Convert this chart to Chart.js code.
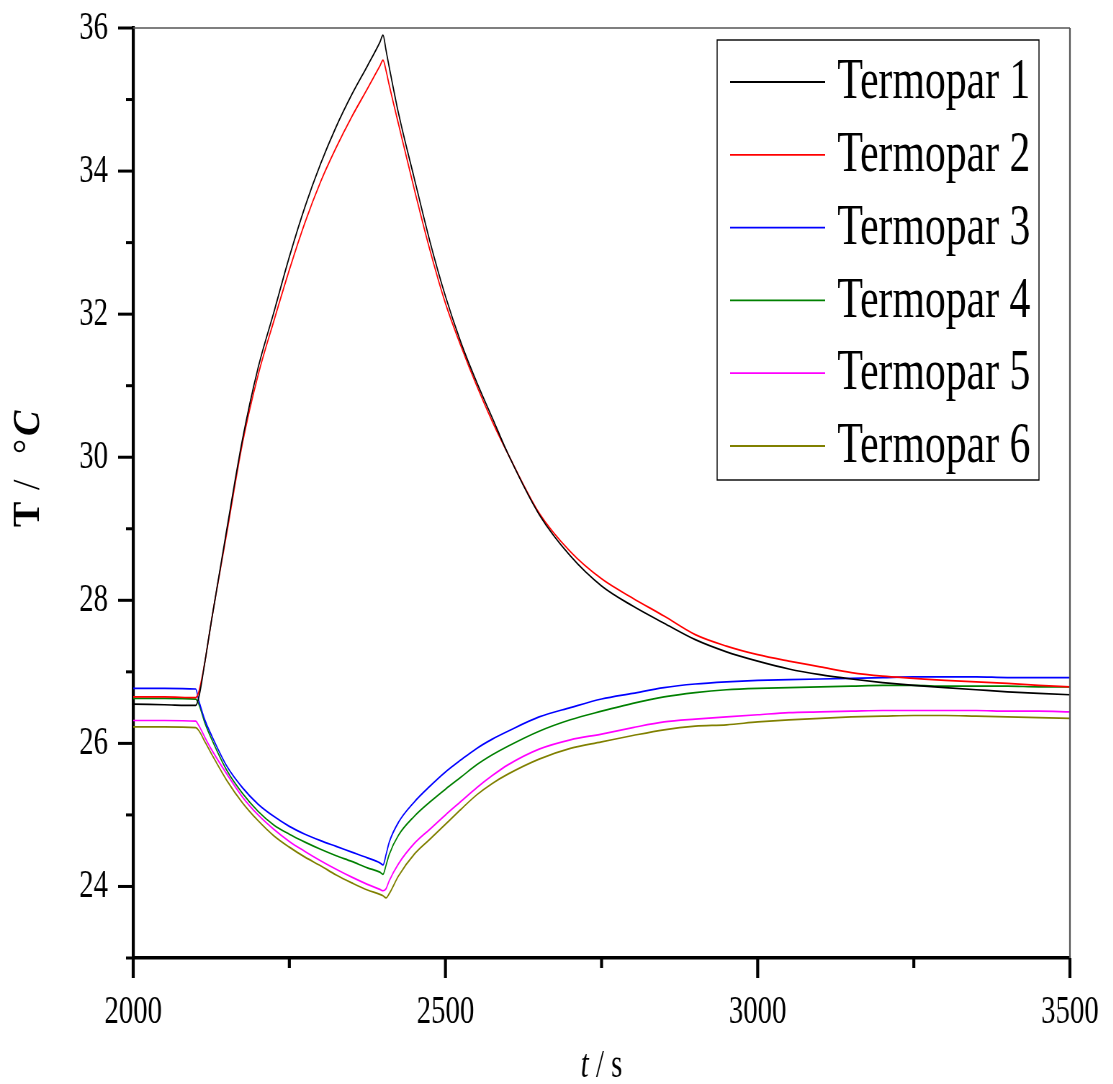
<!DOCTYPE html>
<html>
<head>
<meta charset="utf-8">
<script src="https://cdn.jsdelivr.net/npm/chart.js@4"></script>
<style>
  html, body { margin: 0; padding: 0; background: #fff; overflow: hidden; }
  #chart { display: block; transform: scaleX(0.72); transform-origin: 0 0; }
</style>
</head>
<body>
<canvas id="chart" width="1546" height="1084"></canvas>
<script>
// time axis (s)
const times = [2000, 2050, 2100, 2105, 2115, 2125,
  2150, 2175, 2200, 2225, 2250, 2275, 2300, 2325, 2350, 2375, 2395, 2400,
  2405, 2410,
  2425, 2450, 2475, 2500, 2525, 2550, 2575, 2600,
  2650, 2700, 2750, 2800, 2850, 2900, 2950, 3000, 3050, 3100, 3150, 3200, 3250, 3300, 3350, 3400, 3450, 3500];

// temperatures (°C)
const termopar1 = [26.55, 26.54, 26.53, 26.64, 27.15, 27.7,
  29.0, 30.25, 31.25, 32.02, 32.8, 33.5, 34.1, 34.62, 35.07, 35.47, 35.8, 35.9,
  35.68, 35.45,
  34.8, 33.9, 33.02, 32.25, 31.6, 31.05, 30.55, 30.05,
  29.2, 28.62, 28.2, 27.92, 27.68, 27.45, 27.28, 27.15, 27.04, 26.96, 26.9, 26.85, 26.81, 26.78, 26.75, 26.72, 26.7, 26.68];
const termopar2 = [26.65, 26.65, 26.64, 26.72, 27.15, 27.7,
  28.95, 30.2, 31.15, 31.9, 32.62, 33.28, 33.85, 34.33, 34.76, 35.15, 35.47, 35.55,
  35.4, 35.2,
  34.65, 33.75, 32.9, 32.15, 31.55, 31.0, 30.5, 30.05,
  29.22, 28.68, 28.3, 28.03, 27.78, 27.52, 27.36, 27.24, 27.15, 27.07, 26.99, 26.94, 26.91, 26.88, 26.86, 26.84, 26.81, 26.79];
const termopar3 = [26.77, 26.77, 26.76, 26.6, 26.32, 26.12,
  25.68, 25.38, 25.15, 24.98, 24.84, 24.73, 24.64, 24.56, 24.48, 24.4, 24.33, 24.3,
  24.45, 24.62,
  24.9, 25.18, 25.4, 25.6, 25.77, 25.93, 26.06, 26.17,
  26.37, 26.5, 26.62, 26.7, 26.78, 26.83, 26.86, 26.88, 26.89, 26.9, 26.91, 26.92, 26.93, 26.93, 26.93, 26.92, 26.92, 26.92];
const termopar4 = [26.63, 26.63, 26.62, 26.55, 26.28, 26.07,
  25.62, 25.3, 25.05, 24.86, 24.73, 24.62, 24.52, 24.43, 24.35, 24.26, 24.2, 24.17,
  24.3, 24.45,
  24.72, 24.98, 25.18, 25.36, 25.53, 25.7, 25.84, 25.96,
  26.17, 26.33, 26.45, 26.56, 26.65, 26.71, 26.75, 26.77, 26.78, 26.79, 26.8, 26.81, 26.81, 26.8, 26.8, 26.8, 26.79, 26.79];
const termopar5 = [26.32, 26.32, 26.31, 26.25, 26.08, 25.92,
  25.57, 25.25, 25.0, 24.8, 24.63, 24.49, 24.36, 24.24, 24.13, 24.03, 23.96, 23.94,
  23.97, 24.08,
  24.32, 24.6, 24.8, 25.0, 25.19, 25.38, 25.55, 25.7,
  25.92, 26.05, 26.13, 26.22, 26.3, 26.34, 26.37, 26.4, 26.43, 26.44, 26.45, 26.46, 26.46, 26.46, 26.46, 26.45, 26.45, 26.44];
const termopar6 = [26.23, 26.23, 26.22, 26.18, 26.02, 25.86,
  25.48, 25.17, 24.92, 24.71, 24.55, 24.41, 24.29, 24.16, 24.05, 23.95, 23.89, 23.87,
  23.84, 23.9,
  24.15, 24.45, 24.66, 24.87, 25.08, 25.28, 25.44, 25.57,
  25.78, 25.93, 26.02, 26.11, 26.19, 26.24, 26.26, 26.3, 26.33, 26.35, 26.37, 26.38, 26.39, 26.39, 26.38, 26.37, 26.36, 26.35];

const seriesNames = ['Termopar 1', 'Termopar 2', 'Termopar 3', 'Termopar 4', 'Termopar 5', 'Termopar 6'];
const seriesColors = ['#000000', '#ff0000', '#0000ff', '#008000', '#ff00ff', '#808000'];
const allSeries = [termopar1, termopar2, termopar3, termopar4, termopar5, termopar6];

const xMajor = [2000, 2500, 3000, 3500];
const xMinor = [2250, 2750, 3250];
const yMajor = [24, 26, 28, 30, 32, 34, 36];
const yMinor = [23, 25, 27, 29, 31, 33, 35];

const SX = 0.72; // horizontal squeeze of the whole canvas
const serif = '"Liberation Serif", "Times New Roman", serif';

function seg(ctx, x1, y1, x2, y2) {
  ctx.beginPath(); ctx.moveTo(x1, y1); ctx.lineTo(x2, y2); ctx.stroke();
}

const decor = {
  id: 'decor',
  afterDraw(chart) {
    const ctx = chart.ctx, ca = chart.chartArea;
    const xs = chart.scales.x, ys = chart.scales.y;
    ctx.save();

    // thin frame top / right
    ctx.strokeStyle = '#555';
    ctx.lineWidth = 1.6;
    seg(ctx, ca.left, ca.top, ca.right, ca.top);
    ctx.lineWidth = 1.6 / SX;
    seg(ctx, ca.right, ca.top, ca.right, ca.bottom);

    // tick marks
    ctx.strokeStyle = '#000';
    ctx.lineWidth = 3;
    yMajor.forEach(v => { const y = ys.getPixelForValue(v); seg(ctx, ca.left - 21, y, ca.left, y); });
    yMinor.forEach(v => { const y = ys.getPixelForValue(v); seg(ctx, ca.left - 10, y, ca.left, y); });
    ctx.lineWidth = 3 / SX;
    xMajor.forEach(v => { const x = xs.getPixelForValue(v); seg(ctx, x, ca.bottom, x, ca.bottom + 20); });
    xMinor.forEach(v => { const x = xs.getPixelForValue(v); seg(ctx, x, ca.bottom, x, ca.bottom + 10); });

    // legend
    const L = ca.right - 490, R = ca.right - 43, T = ca.top + 12, B = ca.top + 452;
    ctx.lineWidth = 1.4;
    ctx.strokeRect(L, T, R - L, B - T);
    ctx.font = '58px ' + serif;
    ctx.textBaseline = 'middle';
    ctx.textAlign = 'left';
    chart.data.datasets.forEach((ds, i) => {
      const y = T + 42 + i * 72.8;
      ctx.strokeStyle = ds.borderColor;
      ctx.lineWidth = 1.8;
      seg(ctx, L + 18, y, L + 150, y);
      ctx.fillStyle = '#000';
      ctx.fillText(ds.label, L + 167, y + 1);
    });

    // x title: t / s
    ctx.fillStyle = '#000';
    ctx.textBaseline = 'alphabetic';
    ctx.font = 'italic 40px ' + serif;
    const w1 = ctx.measureText('t').width;
    ctx.font = '40px ' + serif;
    const w2 = ctx.measureText(' / s').width;
    const cx = (ca.left + ca.right) / 2;
    const x0 = cx - (w1 + w2) / 2;
    ctx.font = 'italic 40px ' + serif;
    ctx.fillText('t', x0, 1077);
    ctx.font = '40px ' + serif;
    ctx.fillText(' / s', x0 + w1, 1077);

    // y title: T / °C (rotated, not squeezed)
    ctx.save();
    ctx.scale(1 / SX, 1);
    ctx.translate(39, 527);
    ctx.rotate(-Math.PI / 2);
    ctx.font = 'bold 38px ' + serif;
    ctx.fillText('T', 0, 0);
    ctx.font = '38px ' + serif;
    ctx.fillText('/', 37, 0);
    ctx.fillText('°', 73, 0);
    ctx.font = 'italic bold 38px ' + serif;
    ctx.fillText('C', 91, 0);
    ctx.restore();

    ctx.restore();
  }
};

new Chart(document.getElementById('chart'), {
  type: 'line',
  data: {
    datasets: allSeries.map((vals, i) => ({
      label: seriesNames[i],
      data: times.map((t, k) => ({ x: t, y: vals[k] })),
      borderColor: seriesColors[i],
      borderWidth: 1.7,
      pointRadius: 0,
      fill: false,
      cubicInterpolationMode: 'monotone'
    }))
  },
  options: {
    responsive: false,
    animation: false,
    devicePixelRatio: 1,
    layout: { padding: { left: 0, right: 60, top: 28, bottom: 0 } },
    plugins: { legend: { display: false }, tooltip: { enabled: false } },
    scales: {
      x: {
        type: 'linear',
        min: 2000,
        max: 3500,
        grid: { display: false, drawTicks: true, tickLength: 30 },
        border: { display: true, color: '#000', width: 3.4 },
        ticks: {
          stepSize: 500,
          padding: 0,
          maxRotation: 0,
          autoSkip: false,
          color: '#000',
          font: { family: serif, size: 40 },
          callback: v => xMajor.includes(v) ? String(v) : ''
        },
        afterFit: s => { s.height = 126; }
      },
      y: {
        min: 23,
        max: 36,
        grid: { display: false, drawTicks: true, tickLength: 35 },
        border: { display: true, color: '#000', width: 3 / SX },
        ticks: {
          stepSize: 1,
          padding: 0,
          autoSkip: false,
          color: '#000',
          font: { family: serif, size: 40 },
          callback: v => yMajor.includes(v) ? String(v) : ''
        },
        afterFit: s => { s.width = 185; }
      }
    }
  },
  plugins: [decor]
});
</script>
</body>
</html>
